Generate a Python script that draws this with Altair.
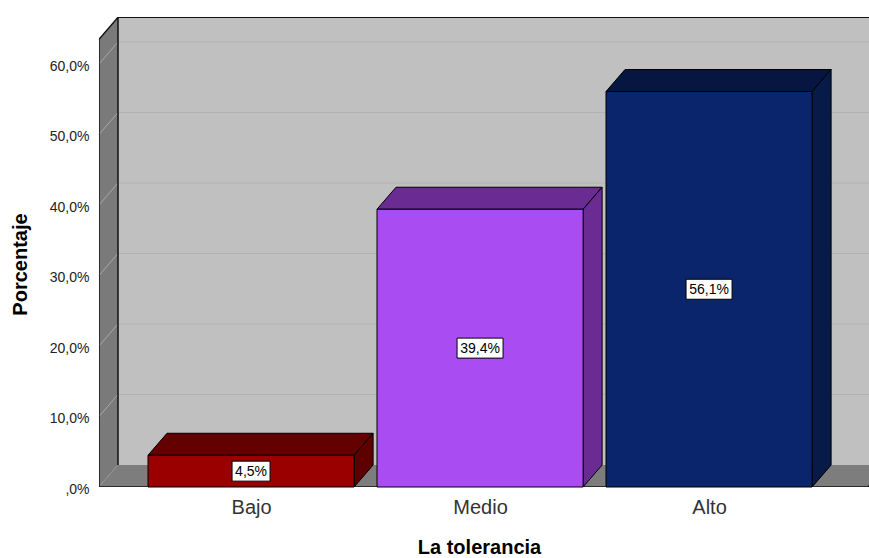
import json
import altair as alt
import pandas as pd

# ---- data -------------------------------------------------------------
CATEGORIES = ["Bajo", "Medio", "Alto"]
PERCENTS = [4.5, 39.4, 56.1]
FRONT_COLORS = ["#9a0000", "#a94cf1", "#0a256c"]
TOP_COLORS = ["#640000", "#6a2c93", "#061640"]
SIDE_COLORS = ["#5e0000", "#6a2c93", "#071a48"]
Y_TICKS = [0, 10, 20, 30, 40, 50, 60]

# ---- 3-D box geometry (data units) -------------------------------------
PLOT_W, PLOT_H = 770, 470
STEP_PX = 229.0                      # pixels per category step
U0 = 0.336                           # left edge of the x domain
XMAX = U0 + PLOT_W / STEP_PX
YMAX = 66.67
DX = 19 / STEP_PX                    # depth, horizontal
DY = 22 / (PLOT_H / YMAX)            # depth, vertical
BAR_HALF = 0.45
WALL_TOP = 63.5
FLOOR_END = U0 + 769 / STEP_PX

xscale = alt.Scale(domain=[U0, XMAX], nice=False, zero=False)
yscale = alt.Scale(domain=[0, YMAX], nice=False, zero=False)

x_axis = alt.Axis(
    values=[1, 2, 3],
    labelExpr=json.dumps(CATEGORIES) + "[datum.value - 1]",
    title="La tolerancia",
    grid=False, ticks=False, domain=False,
    labelFont="Liberation Sans", labelFontSize=20, labelColor="#333333",
    labelPadding=10,
    titleFont="Liberation Sans", titleFontSize=20, titleFontWeight="bold",
    titleColor="#000000", titleX=380, titleY=66, titleBaseline="alphabetic",
    titleAlign="center",
)
y_axis = alt.Axis(
    values=Y_TICKS,
    labelExpr="datum.value == 0 ? ',0%' : replace(format(datum.value, '.1f'), '.', ',') + '%'",
    title="Porcentaje",
    grid=False, ticks=False, domain=False,
    labelFont="Liberation Sans", labelFontSize=14, labelColor="#222222",
    labelPadding=10, labelOffset=2,
    titleFont="Liberation Sans", titleFontSize=20, titleFontWeight="bold",
    titleColor="#000000", titleX=-73, titleY=247, titleBaseline="alphabetic",
    titleAlign="center", titleAngle=270,
)


def X(f):
    return alt.X(f, type="quantitative", scale=xscale, axis=x_axis)


def Y(f):
    return alt.Y(f, type="quantitative", scale=yscale, axis=y_axis)


# ---- walls and floor --------------------------------------------------
back_wall = pd.DataFrame([{"x": U0 + DX, "x2": XMAX, "y": DY, "y2": WALL_TOP + DY}])
left_wall = pd.DataFrame([
    {"face": "left", "u": U0, "top": WALL_TOP, "bottom": 0},
    {"face": "left", "u": U0 + DX, "top": WALL_TOP + DY, "bottom": DY},
])
floor = pd.DataFrame([
    {"face": "floor", "u": U0, "top": 0, "bottom": 0},
    {"face": "floor", "u": U0 + DX, "top": DY, "bottom": 0},
    {"face": "floor", "u": FLOOR_END, "top": DY, "bottom": 0},
    {"face": "floor", "u": FLOOR_END + DX, "top": DY, "bottom": DY},
])

grid_rows = []
for t in Y_TICKS:
    grid_rows.append({"x": U0, "x2": U0 + DX, "y": t, "y2": t + DY, "c": "#a9a9a9"})
    if t > 0:
        grid_rows.append({"x": U0 + DX, "x2": XMAX, "y": t + DY, "y2": t + DY, "c": "#b2b2b2"})
grid = pd.DataFrame(grid_rows)

edges = pd.DataFrame([
    {"x": U0, "x2": U0, "y": 0, "y2": WALL_TOP},
    {"x": U0, "x2": U0 + DX, "y": WALL_TOP, "y2": WALL_TOP + DY},
    {"x": U0 + DX, "x2": U0 + DX, "y": DY, "y2": WALL_TOP + DY},
    {"x": U0 + DX, "x2": XMAX, "y": WALL_TOP + DY, "y2": WALL_TOP + DY},
    {"x": U0, "x2": FLOOR_END, "y": 0, "y2": 0},
    {"x": FLOOR_END, "x2": FLOOR_END + DX, "y": 0, "y2": DY},
])

# ---- bars --------------------------------------------------------------
front_rows, face_rows, label_rows = [], [], []
for i, (cat, v) in enumerate(zip(CATEGORIES, PERCENTS)):
    u = i + 1
    x0, x1 = u - BAR_HALF, u + BAR_HALF
    front_rows.append({"x": x0, "x2": x1, "y": 0, "y2": v, "fill": FRONT_COLORS[i]})
    top_id, side_id = f"{cat}-top", f"{cat}-side"
    face_rows += [
        {"face": top_id, "u": x0, "top": v, "bottom": v, "fill": TOP_COLORS[i]},
        {"face": top_id, "u": x0 + DX, "top": v + DY, "bottom": v, "fill": TOP_COLORS[i]},
        {"face": top_id, "u": x1, "top": v + DY, "bottom": v, "fill": TOP_COLORS[i]},
        {"face": top_id, "u": x1 + DX, "top": v + DY, "bottom": v + DY, "fill": TOP_COLORS[i]},
        {"face": side_id, "u": x1, "top": v, "bottom": 0, "fill": SIDE_COLORS[i]},
        {"face": side_id, "u": x1 + DX, "top": v + DY, "bottom": DY, "fill": SIDE_COLORS[i]},
    ]
    text = f"{v:.1f}".replace(".", ",") + "%"
    half_w = (8 * len(text) + 6) / 2 / STEP_PX
    half_h = 10 / (PLOT_H / YMAX)
    label_rows.append({
        "x": u - half_w, "x2": u + half_w, "cx": u,
        "y": v / 2 - half_h, "y2": v / 2 + half_h, "cy": v / 2, "text": text,
    })

fronts = pd.DataFrame(front_rows)
faces = pd.DataFrame(face_rows)
labels = pd.DataFrame(label_rows)

# ---- layers ------------------------------------------------------------
back_layer = alt.Chart(back_wall).mark_rect(fill="#c0c0c0").encode(
    x=X("x"), x2="x2", y=Y("y"), y2="y2")

left_layer = alt.Chart(left_wall).mark_area(fill="#7a7a7a").encode(
    x=X("u"), y=Y("top"), y2="bottom", detail="face:N")

grid_layer = alt.Chart(grid).mark_rule(strokeWidth=1).encode(
    x=X("x"), x2="x2", y=Y("y"), y2="y2", color=alt.Color("c:N", scale=None))

floor_layer = alt.Chart(floor).mark_area(fill="#7d7d7d", clip=True).encode(
    x=X("u"), y=Y("top"), y2="bottom", detail="face:N")

edge_layer = alt.Chart(edges).mark_rule(color="#111111", strokeWidth=1.5, clip=True).encode(
    x=X("x"), x2="x2", y=Y("y"), y2="y2")

face_layer = alt.Chart(faces).mark_area(stroke="#000000", strokeWidth=1).encode(
    x=X("u"), y=Y("top"), y2="bottom", detail="face:N",
    fill=alt.Fill("fill:N", scale=None))

front_layer = alt.Chart(fronts).mark_rect(stroke="#000000", strokeWidth=1).encode(
    x=X("x"), x2="x2", y=Y("y"), y2="y2", fill=alt.Fill("fill:N", scale=None))

box_layer = alt.Chart(labels).mark_rect(fill="white", stroke="#000000", strokeWidth=1).encode(
    x=X("x"), x2="x2", y=Y("y"), y2="y2")

text_layer = alt.Chart(labels).mark_text(
    font="Liberation Sans", fontSize=14, color="#000000", baseline="middle", dy=1
).encode(x=X("cx"), y=Y("cy"), text="text:N")

chart = alt.layer(
    back_layer, left_layer, grid_layer, floor_layer, edge_layer,
    face_layer, front_layer, box_layer, text_layer,
).properties(
    width=PLOT_W, height=PLOT_H,
    autosize=alt.AutoSizeParams(type="none"),
    padding={"left": 99, "top": 17, "right": 0, "bottom": 71},
    background="white",
).configure_view(strokeWidth=0)

chart.save("out.html", embed_options={"renderer": "svg", "actions": False})
